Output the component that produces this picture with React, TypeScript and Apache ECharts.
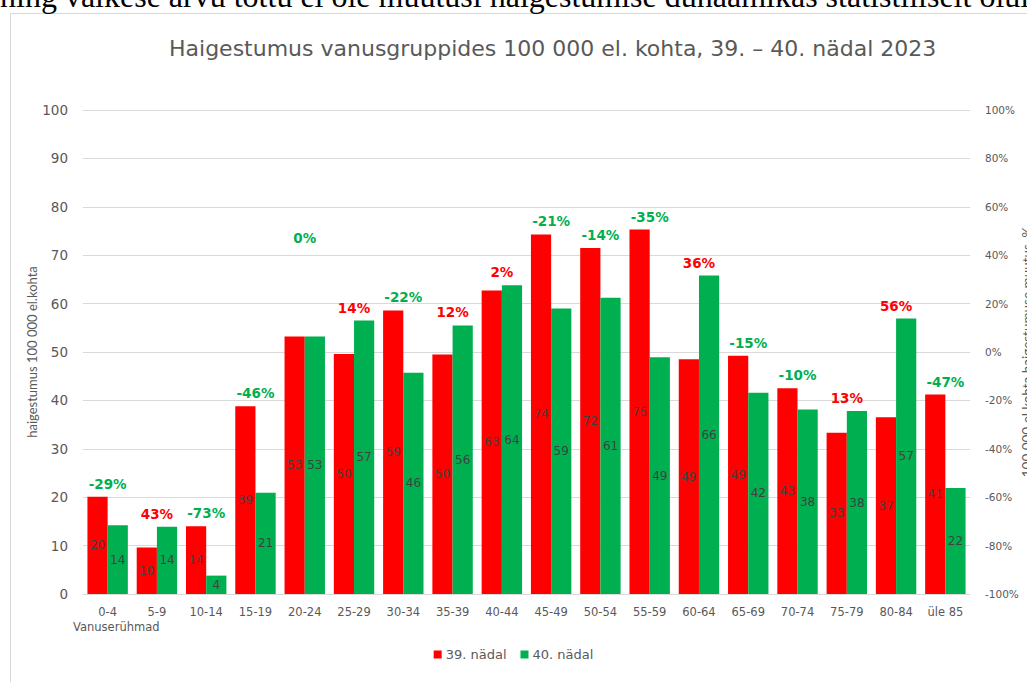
import React, { useEffect, useRef } from "react";
import * as echarts from "echarts";

const categories = ["0-4", "5-9", "10-14", "15-19", "20-24", "25-29", "30-34", "35-39", "40-44", "45-49", "50-54", "55-59", "60-64", "65-69", "70-74", "75-79", "80-84", "üle 85"];
const week39 = [20.1, 9.6, 14.0, 38.8, 53.2, 49.6, 58.6, 49.5, 62.7, 74.3, 71.5, 75.3, 48.5, 49.2, 42.5, 33.3, 36.5, 41.2];
const week40 = [14.2, 13.9, 3.8, 20.9, 53.2, 56.5, 45.7, 55.5, 63.8, 59.0, 61.2, 48.9, 65.8, 41.6, 38.1, 37.8, 56.9, 21.9];
const changePct = [-29, 43, -73, -46, 0, 14, -22, 12, 2, -21, -14, -35, 36, -15, -10, 13, 56, -47];
const leftTicks = { min: 0, max: 100, interval: 10 };
const rightTicks = { min: -100, max: 100, interval: 20 };

const RED = "#ff0000";
const GREEN = "#00b050";
const GRAY = "#595959";
const FONT = "'DejaVu Sans', Verdana, sans-serif";
const FONT_ROT = "Lato, 'Open Sans', sans-serif";

export default function App() {
  const ref = useRef<HTMLDivElement>(null);
  useEffect(() => {
    if (!ref.current) return;
    const chart = echarts.init(ref.current, null, { renderer: "svg" });
    const pctData = changePct.map((p, i) => [i, Math.max(week39[i], week40[i]), p]);
    chart.setOption({
      animation: false,
      backgroundColor: "#ffffff",
      textStyle: { fontFamily: FONT },
      title: {
        text: "Haigestumus vanusgruppides 100 000 el. kohta, 39. – 40. nädal 2023",
        left: 164,
        top: 32,
        textStyle: { fontFamily: FONT, fontSize: 22, fontWeight: "normal", color: GRAY },
      },
      legend: {
        bottom: 16,
        left: "center",
        itemWidth: 8,
        itemHeight: 8,
        itemGap: 14,
        icon: "rect",
        data: ["39. nädal", "40. nädal"],
        textStyle: { fontFamily: FONT, fontSize: 13, color: GRAY, padding: [0, 0, 0, -1] },
      },
      grid: { left: 83, right: 57, top: 110, bottom: 88, outerBoundsMode: "none", containLabel: false },
      xAxis: {
        type: "category",
        data: categories,
        axisTick: { show: false },
        axisLine: { lineStyle: { color: "#d9d9d9" } },
        axisLabel: { color: GRAY, fontSize: 11.5, margin: 12, fontFamily: FONT },
      },
      yAxis: [
        {
          type: "value",
          ...leftTicks,
          name: "haigestumus 100 000 el.kohta",
          nameLocation: "middle",
          nameGap: 45,
          nameMoveOverlap: false,
          nameTextStyle: { color: GRAY, fontSize: 13, fontFamily: FONT_ROT },
          axisLabel: { color: GRAY, fontSize: 13.5, margin: 15, fontFamily: FONT },
          splitLine: { lineStyle: { color: "#d9d9d9" } },
          axisLine: { show: false },
          axisTick: { show: false },
        },
        {
          type: "value",
          ...rightTicks,
          position: "right",
          name: "100 000 el.kohta haigestumuse muutus, %",
          nameLocation: "middle",
          nameGap: 50,
          nameMoveOverlap: false,
          nameTextStyle: { color: GRAY, fontSize: 13.5, fontFamily: FONT_ROT },
          axisLabel: { color: GRAY, fontSize: 10.5, margin: 15, formatter: "{value}%", fontFamily: FONT },
          splitLine: { show: false },
          axisLine: { show: false },
          axisTick: { show: false },
        },
      ],
      series: [
        {
          name: "39. nädal",
          type: "bar",
          data: week39,
          barGap: "0%",
          barCategoryGap: "18%",
          itemStyle: { color: RED },
          label: {
            show: true,
            position: "inside",
            color: "#404040",
            fontSize: 12,
            fontFamily: FONT,
            formatter: (p: any) => String(Math.round(p.value)),
          },
        },
        {
          name: "40. nädal",
          type: "bar",
          data: week40,
          itemStyle: { color: GREEN },
          label: {
            show: true,
            position: "inside",
            color: "#404040",
            fontSize: 12,
            fontFamily: FONT,
            formatter: (p: any) => String(Math.round(p.value)),
          },
        },
        {
          type: "custom",
          name: "muutus",
          data: pctData,
          silent: true,
          z: 10,
          renderItem: (params: any, api: any) => {
            const i = api.value(0);
            const v = api.value(1);
            const p = api.value(2);
            const pt = api.coord([i, v]);
            const extra = i === 4 ? 86 : 0;
            return {
              type: "text",
              x: pt[0],
              y: pt[1] - 13 - extra,
              style: {
                text: p + "%",
                fill: p > 0 ? RED : GREEN,
                font: "bold 13.5px " + FONT,
                align: "center",
                verticalAlign: "middle",
              },
            };
          },
        },
      ],
      graphic: [
        {
          type: "rect",
          shape: { x: 10.5, y: 13.5, width: 1100, height: 700 },
          style: { fill: "none", stroke: "#d9d9d9", lineWidth: 1 },
          silent: true,
          z: -1,
        },
        {
          type: "text",
          x: 0,
          y: 12,
          style: {
            text: "ning väikese arvu tõttu ei ole muutusi haigestumise dünaamikas statistiliselt oluline",
            font: "32px 'Liberation Serif', 'DejaVu Serif', serif",
            fill: "#000000",
            verticalAlign: "bottom",
          },
        },
        {
          type: "text",
          left: 73,
          top: 621,
          style: { text: "Vanuserühmad", font: "11.5px " + FONT, fill: GRAY },
        },
      ],
    });
    return () => chart.dispose();
  }, []);
  return <div ref={ref} style={{ position: "fixed", left: 0, top: 0, width: 1027, height: 682 }} />;
}
